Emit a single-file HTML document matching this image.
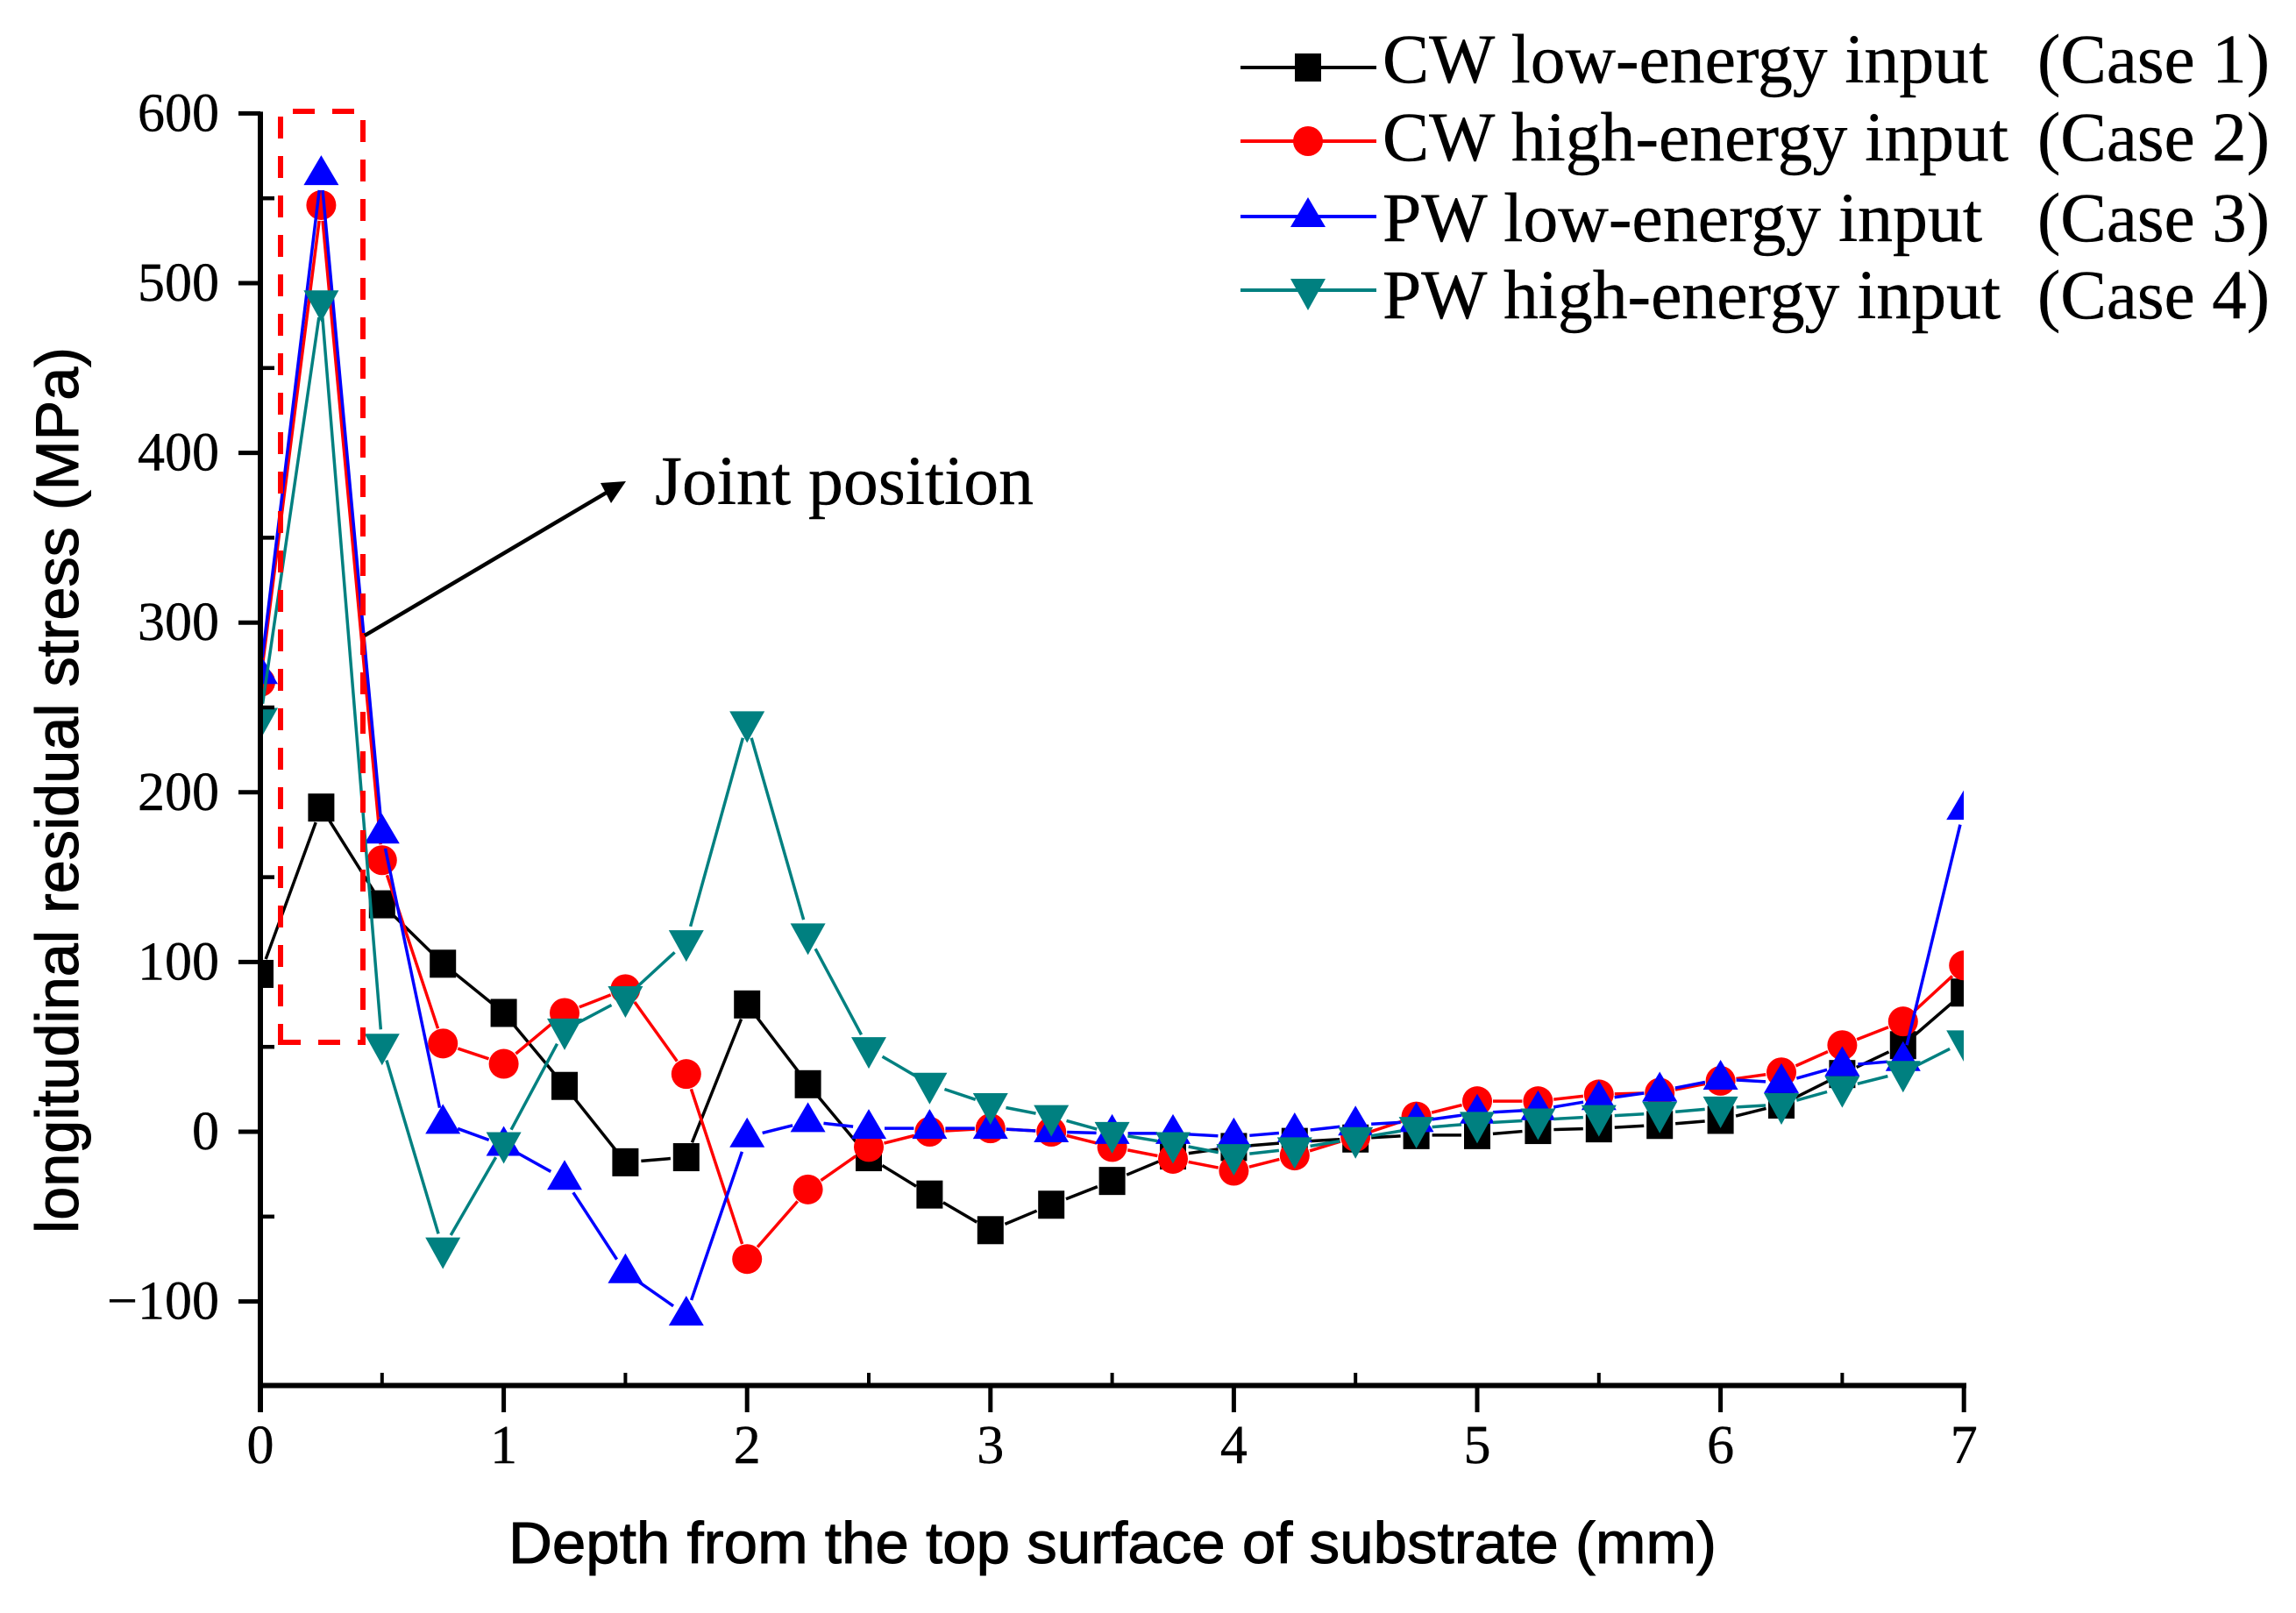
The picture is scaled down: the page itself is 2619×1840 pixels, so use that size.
<!DOCTYPE html>
<html lang="en">
<head>
<meta charset="utf-8">
<title>Longitudinal residual stress vs depth</title>
<style>
  html, body { margin: 0; padding: 0; background: #fff; }
  svg { display: block; }
  .serif { font-family: "Liberation Serif", serif; fill: #000; stroke: #000; stroke-width: 0.4; }
  .sans { font-family: "Liberation Sans", sans-serif; fill: #000; stroke: #000; stroke-width: 1; }
</style>
</head>
<body>
<svg id="chart" xmlns="http://www.w3.org/2000/svg" width="2619" height="1840" viewBox="0 0 2619 1840">
  <rect x="0" y="0" width="2619" height="1840" fill="#fff"/>
  <defs>
    <clipPath id="plot-clip"><rect x="297" y="100" width="1943" height="1481"/></clipPath>
  </defs>
  <g id="series-layer" clip-path="url(#plot-clip)"></g>
  <g id="axes-layer"></g>

  <g fill="none" stroke="#ff0000" stroke-width="6" stroke-dasharray="25 20">
    <path d="M334 127 H414 V1192"/>
    <path d="M320 133 V1192"/>
    <path d="M318 1189 H414"/>
  </g>
  <line x1="416" y1="725" x2="695" y2="560" stroke="#000" stroke-width="4.5"/>
  <polygon points="714,549 685,551 697,574" fill="#000"/>
  <text class="serif" x="747" y="575" font-size="79" textLength="432" lengthAdjust="spacingAndGlyphs">Joint position</text>

  <text class="sans" x="580" y="1783" font-size="67" textLength="1378" lengthAdjust="spacingAndGlyphs">Depth from the top surface of substrate (mm)</text>
  <text class="sans" transform="translate(89 1407) rotate(-90)" font-size="69" textLength="1011" lengthAdjust="spacingAndGlyphs">longitudinal residual stress (MPa)</text>

  <g id="legend-layer"></g>
</svg>
<script>
// ----- chart data -----
const depths = [0,0.25,0.5,0.75,1,1.25,1.5,1.75,2,2.25,2.5,2.75,3,3.25,3.5,3.75,4,4.25,4.5,4.75,5,5.25,5.5,5.75,6,6.25,6.5,6.75,7];
const cwLow  = [93,191,134,99,70,27,-18,-15,75,28,-15,-37,-58,-43,-29,-14,-9,-6,-4,-2,-2,1,2,4,7,16,34,51,82];
const cwHigh = [265,546,160,52,40,70,84,34,-75,-34,-9,0,2,0,-9,-16,-23,-14,-3,9,18,18,22,23,30,35,51,65,98];
const pwLow  = [270,564,176,5,-8,-28,-83,-108,-3,6,2,2,2,0,-1,-1,-3,0,4,6,11,13,19,24,31,29,39,42,190];
const pwHigh = [243,489,51,-69,-7,60,79,112,241,116,49,28,16,9,-1,-7,-14,-10,-4,2,5,7,9,11,14,16,26,35,53];
const xTickLabels = [0,1,2,3,4,5,6,7];
const xMinorTicks = [0.5,1.5,2.5,3.5,4.5,5.5,6.5];
const yTickLabels = [600,500,400,300,200,100,0,-100];
const yMinorTicks = [550,450,350,250,150,50,-50];
const legendNames = ['CW low-energy input','CW high-energy input','PW low-energy input','PW high-energy input'];
const legendCases = ['(Case 1)','(Case 2)','(Case 3)','(Case 4)'];

// ----- axis functions -----
const NS = 'http://www.w3.org/2000/svg';
function xScale(v) { return 297 + 277.6 * v; }
function yScale(v) { return 1291 - 1.936 * v; }
function make(tag, attrs, parent) {
  const node = document.createElementNS(NS, tag);
  for (const k in attrs) node.setAttribute(k, attrs[k]);
  parent.appendChild(node);
  return node;
}
function markerShape(kind, cx, cy, color, parent) {
  if (kind === 'square') return make('rect', {x: cx-15, y: cy-16, width: 30, height: 32, fill: color}, parent);
  if (kind === 'circle') return make('circle', {cx: cx, cy: cy, r: 17, fill: color}, parent);
  if (kind === 'up') return make('polygon', {points: (cx)+','+(cy-22)+' '+(cx+20)+','+(cy+12)+' '+(cx-20)+','+(cy+12), fill: color}, parent);
  return make('polygon', {points: (cx)+','+(cy+23)+' '+(cx+20)+','+(cy-13)+' '+(cx-20)+','+(cy-13), fill: color}, parent);
}
// polyline path with the small gap the original leaves around each symbol
function gappedPath(values) {
  const gap = 18;
  let d = '';
  for (let i = 0; i + 1 < values.length; i++) {
    const x0 = xScale(depths[i]), y0 = yScale(values[i]);
    const x1 = xScale(depths[i + 1]), y1 = yScale(values[i + 1]);
    const len = Math.hypot(x1 - x0, y1 - y0);
    const t = Math.min(gap / len, 0.45);
    d += 'M' + (x0 + (x1 - x0) * t) + ' ' + (y0 + (y1 - y0) * t) + 'L' + (x1 - (x1 - x0) * t) + ' ' + (y1 - (y1 - y0) * t);
  }
  return d;
}

// ----- axes -----
const axes = document.getElementById('axes-layer');
const yAxisLine = make('line', {x1: 297, y1: yScale(600)-2, x2: 297, y2: 1611, stroke: '#000', 'stroke-width': 6}, axes);


const xAxisLine = make('line', {x1: 297, y1: 1580.5, x2: 2243, y2: 1580.5, stroke: '#000', 'stroke-width': 6}, axes);



yTickLabels.forEach(function (v) {
  const tick = make('line', {x1: 272, y1: yScale(v), x2: 297, y2: yScale(v), stroke: '#000', 'stroke-width': 5}, axes);
  
  
  const label = make('text', {x: 250, y: yScale(v) + 20, 'text-anchor': 'end', 'font-size': 62, class: 'serif'}, axes);
  label.textContent = String(v).replace('-', '\u2212');
  
  
});
yMinorTicks.forEach(function (v) {
  const tick = make('line', {x1: 297, y1: yScale(v), x2: 313, y2: yScale(v), stroke: '#000', 'stroke-width': 4.5}, axes);
  
  
});
xTickLabels.forEach(function (v) {
  const tick = make('line', {x1: xScale(v), y1: 1580, x2: xScale(v), y2: 1611, stroke: '#000', 'stroke-width': 5}, axes);
  
  
  const label = make('text', {x: xScale(v), y: 1669, 'text-anchor': 'middle', 'font-size': 62, class: 'serif'}, axes);
  label.textContent = String(v);
  
  
});
xMinorTicks.forEach(function (v) {
  const tick = make('line', {x1: xScale(v), y1: 1566, x2: xScale(v), y2: 1580, stroke: '#000', 'stroke-width': 4}, axes);
  
  
});

// ----- series -----
const seriesLayer = document.getElementById('series-layer');
function drawSeries(values, color, kind, seriesName) {
  const group = make('g', {}, seriesLayer);
  
  
  const line = make('path', {d: gappedPath(values), fill: 'none', stroke: color, 'stroke-width': 3.5}, group);
  
  
  values.forEach(function (v, i) {
    const m = markerShape(kind, xScale(depths[i]), yScale(v), color, group);
    
    
  });
}
drawSeries(cwLow, '#000000', 'square', 'series-cw-low-energy');
drawSeries(cwHigh, '#ff0000', 'circle', 'series-cw-high-energy');
drawSeries(pwLow, '#0000ff', 'up', 'series-pw-low-energy');
drawSeries(pwHigh, '#008080', 'down', 'series-pw-high-energy');

// ----- legend -----
const legend = document.getElementById('legend-layer');
const legendColors = ['#000000','#ff0000','#0000ff','#008080'];
const legendKinds = ['square','circle','up','down'];
const legendLineY = [77,161,247,331];
const legendBaseY = [94,183,275,363];
const legendTextW = [691,714,684,705];
legendNames.forEach(function (name, i) {
  const row = make('g', {}, legend);
  
  
  const swatch = make('line', {x1: 1415, y1: legendLineY[i], x2: 1570, y2: legendLineY[i], stroke: legendColors[i], 'stroke-width': 4}, row);
  
  
  const mk = markerShape(legendKinds[i], 1492, legendLineY[i], legendColors[i], row);
  
  
  const label = make('text', {x: 1577, y: legendBaseY[i], 'font-size': 79, class: 'serif', textLength: legendTextW[i], lengthAdjust: 'spacingAndGlyphs'}, row);
  label.textContent = name;
  
  
  const cs = make('text', {x: 2324, y: legendBaseY[i], 'font-size': 79, class: 'serif', textLength: 265, lengthAdjust: 'spacingAndGlyphs'}, row);
  cs.textContent = legendCases[i];
  
  
});
</script>
</body>
</html>
